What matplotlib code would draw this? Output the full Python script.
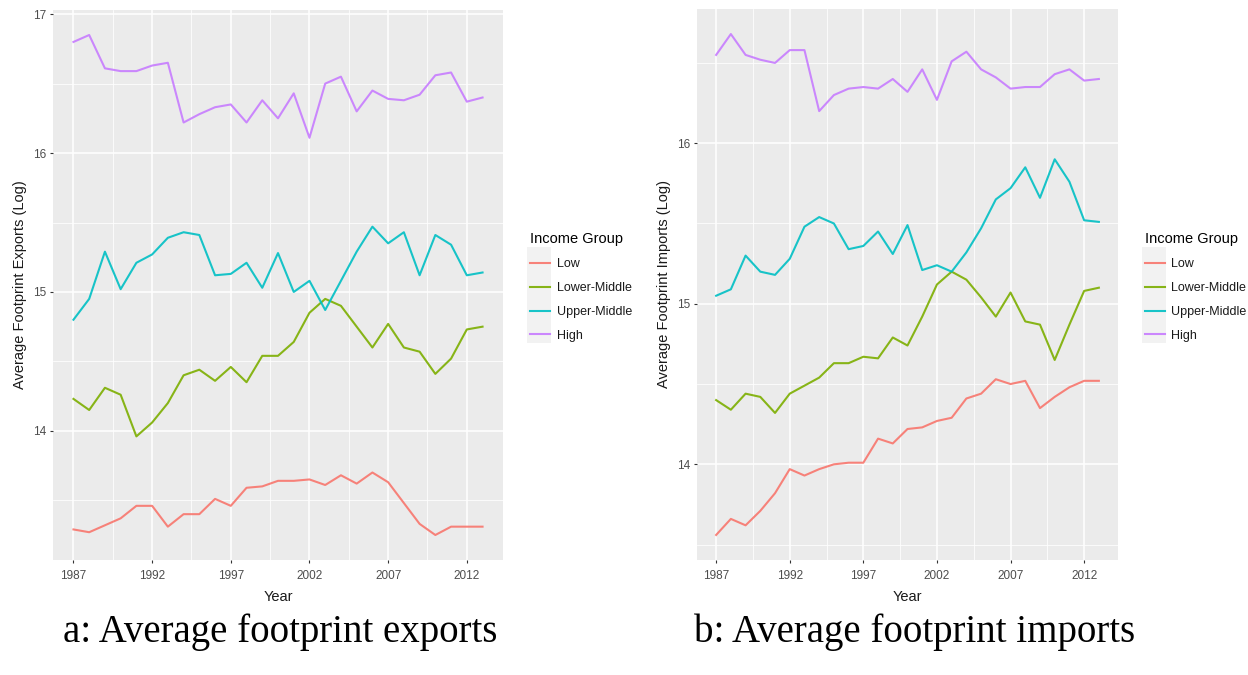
import numpy as np
import matplotlib
matplotlib.use("Agg")
import matplotlib.pyplot as plt
from matplotlib.ticker import FixedLocator
from matplotlib.patches import Rectangle

# Data
years = np.arange(1987, 2014)
groups = ["Low", "Lower-Middle", "Upper-Middle", "High"]
colors = ["#F8766D", "#7CAE00", "#00BFC4", "#C77CFF"]

exp_low = [13.29, 13.27, 13.32, 13.37, 13.46, 13.46, 13.31, 13.40, 13.40, 13.51,
           13.46, 13.59, 13.60, 13.64, 13.64, 13.65, 13.61, 13.68, 13.62, 13.70,
           13.63, 13.48, 13.33, 13.25, 13.31, 13.31, 13.31]
exp_lower_mid = [14.23, 14.15, 14.31, 14.26, 13.96, 14.06, 14.20, 14.40, 14.44, 14.36,
                 14.46, 14.35, 14.54, 14.54, 14.64, 14.85, 14.95, 14.90, 14.75, 14.60,
                 14.77, 14.60, 14.57, 14.41, 14.52, 14.73, 14.75]
exp_upper_mid = [14.80, 14.95, 15.29, 15.02, 15.21, 15.27, 15.39, 15.43, 15.41, 15.12,
                 15.13, 15.21, 15.03, 15.28, 15.00, 15.08, 14.87, 15.08, 15.29, 15.47,
                 15.35, 15.43, 15.12, 15.41, 15.34, 15.12, 15.14]
exp_high = [16.80, 16.85, 16.61, 16.59, 16.59, 16.63, 16.65, 16.22, 16.28, 16.33,
            16.35, 16.22, 16.38, 16.25, 16.43, 16.11, 16.50, 16.55, 16.30, 16.45,
            16.39, 16.38, 16.42, 16.56, 16.58, 16.37, 16.40]

imp_low = [13.56, 13.66, 13.62, 13.71, 13.82, 13.97, 13.93, 13.97, 14.00, 14.01,
           14.01, 14.16, 14.13, 14.22, 14.23, 14.27, 14.29, 14.41, 14.44, 14.53,
           14.50, 14.52, 14.35, 14.42, 14.48, 14.52, 14.52]
imp_lower_mid = [14.40, 14.34, 14.44, 14.42, 14.32, 14.44, 14.49, 14.54, 14.63, 14.63,
                 14.67, 14.66, 14.79, 14.74, 14.92, 15.12, 15.20, 15.15, 15.04, 14.92,
                 15.07, 14.89, 14.87, 14.65, 14.87, 15.08, 15.10]
imp_upper_mid = [15.05, 15.09, 15.30, 15.20, 15.18, 15.28, 15.48, 15.54, 15.50, 15.34,
                 15.36, 15.45, 15.31, 15.49, 15.21, 15.24, 15.20, 15.32, 15.47, 15.65,
                 15.72, 15.85, 15.66, 15.90, 15.76, 15.52, 15.51]
imp_high = [16.55, 16.68, 16.55, 16.52, 16.50, 16.58, 16.58, 16.20, 16.30, 16.34,
            16.35, 16.34, 16.40, 16.32, 16.46, 16.27, 16.51, 16.57, 16.46, 16.41,
            16.34, 16.35, 16.35, 16.43, 16.46, 16.39, 16.40]

x_breaks = [1987, 1992, 1997, 2002, 2007, 2012]

plt.rcParams["font.family"] = ["Liberation Sans", "DejaVu Sans"]

fig = plt.figure(figsize=(12.48, 6.75), dpi=100)
W, H = 1248, 675


def gg_axes(px_left, px_top, px_right, px_bottom):
    ax = fig.add_axes([px_left / W, 1 - px_bottom / H,
                       (px_right - px_left) / W, (px_bottom - px_top) / H])
    ax.set_facecolor("#EBEBEB")
    for s in ax.spines.values():
        s.set_visible(False)
    return ax


def style(ax, series, y_major, ylabel):
    for vals, c, lab in zip(series, colors, groups):
        ax.plot(years, vals, color=c, lw=1.5, label=lab, alpha=0.9,
                solid_joinstyle="round")
    allv = np.concatenate([np.asarray(v) for v in series])
    lo, hi = allv.min(), allv.max()
    pad = (hi - lo) * 0.05
    ax.set_ylim(lo - pad, hi + pad)
    ax.set_xlim(1987 - 26 * 0.05, 2013 + 26 * 0.05)
    ax.set_xticks(x_breaks)
    ax.set_yticks(y_major)
    ax.xaxis.set_minor_locator(FixedLocator([b + 2.5 for b in x_breaks[:-1]]))
    ax.yaxis.set_minor_locator(FixedLocator([v + 0.5 for v in [13] + y_major]))
    ax.grid(which="major", color="white", lw=1.1)
    ax.grid(which="minor", color="white", lw=0.55)
    ax.set_axisbelow(True)
    ax.tick_params(which="major", length=2.5, width=0.8, color="#333333",
                   labelcolor="#4D4D4D", labelsize=8.5, pad=2)
    ax.tick_params(axis="x", which="major", pad=4.5)
    ax.tick_params(which="minor", length=0)
    ax.set_xlabel("Year", fontsize=10.5, color="#1A1A1A", labelpad=6)
    ax.set_ylabel(ylabel, fontsize=10.5, color="#1A1A1A", labelpad=5)


ax1 = gg_axes(53, 10, 503, 560)
style(ax1, [exp_low, exp_lower_mid, exp_upper_mid, exp_high], [14, 15, 16, 17],
      "Average Footprint Exports (Log)")
ax2 = gg_axes(697, 9, 1118, 560)
style(ax2, [imp_low, imp_lower_mid, imp_upper_mid, imp_high], [14, 15, 16],
      "Average Footprint Imports (Log)")

for ax, lx in [(ax1, 524), (ax2, 1139)]:
    # grey legend key column
    fig.patches.append(Rectangle(((lx + 3) / W, 1 - 343 / H), 24 / W, 96 / H,
                                 transform=fig.transFigure, facecolor="#F2F2F2",
                                 edgecolor="none", zorder=0))
    h, l = ax.get_legend_handles_labels()
    leg = fig.legend(h, l, title="Income Group", loc="upper left",
                     bbox_to_anchor=(lx / W, 1 - 226 / H), frameon=False,
                     fontsize=9, title_fontsize=10.5, handlelength=1.6,
                     handletextpad=0.5, labelspacing=0.95, borderpad=0,
                     alignment="left")
    for t in leg.get_texts():
        t.set_color("#1A1A1A")

fig.text(280 / W, 1 - 632 / H, "a: Average footprint exports", ha="center", va="center",
         fontsize=28, family="Liberation Serif")
fig.text(915 / W, 1 - 632 / H, "b: Average footprint imports", ha="center", va="center",
         fontsize=28, family="Liberation Serif")

fig.savefig("out.png", dpi=100, facecolor="white")
